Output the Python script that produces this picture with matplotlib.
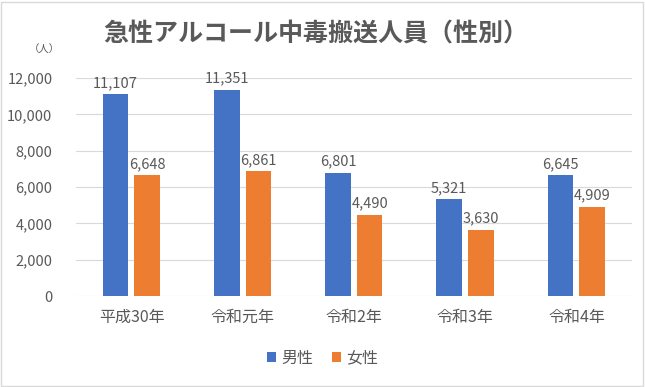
import matplotlib
matplotlib.use("Agg")
import matplotlib.pyplot as plt
import matplotlib.patches as patches
import numpy as np

plt.rcParams['font.family'] = ['Noto Sans CJK JP', 'DejaVu Sans']

# ---- data ----
categories = ["平成30年", "令和元年", "令和2年", "令和3年", "令和4年"]
male = [11107, 11351, 6801, 5321, 6645]
female = [6648, 6861, 4490, 3630, 4909]
series_names = ["男性", "女性"]
yticks = [0, 2000, 4000, 6000, 8000, 10000, 12000]

blue = "#4472C4"
orange = "#ED7D31"
text_col = "#595959"

fig = plt.figure(figsize=(6.45, 3.87), dpi=100)
ax = fig.add_axes([0.118, 0.235, 0.862, 0.563])

x = np.arange(len(categories))
w = 0.23
ax.bar(x - 0.145, male, w, color=blue, label=series_names[0], zorder=2)
ax.bar(x + 0.14, female, w, color=orange, label=series_names[1], zorder=2)

for xi, v in zip(x, male):
    ax.text(xi - 0.145, v + 250, f"{v:,}", ha='center', va='bottom', fontsize=10.5, color=text_col)
for xi, v in zip(x, female):
    ax.text(xi + 0.14, v + 250, f"{v:,}", ha='center', va='bottom', fontsize=10.5, color=text_col)

ax.set_xlim(-0.5, len(categories) - 0.5)
ax.set_ylim(0, 12000)
ax.set_yticks(yticks)
ax.set_yticklabels([f"{t:,}" for t in yticks], fontsize=10.5, color=text_col)
ax.set_xticks(x)
ax.set_xticklabels(categories, fontsize=11.5, color=text_col)
ax.tick_params(axis='both', length=0)
ax.tick_params(axis='y', pad=17)
ax.tick_params(axis='x', pad=9)
ax.grid(axis='y', color="#d9d9d9", linewidth=0.8, zorder=0)
for s in ax.spines.values():
    s.set_visible(False)

fig.text(0.49, 0.91, "急性アルコール中毒搬送人員（性別）", ha='center', va='center',
         fontsize=18, fontweight='bold', color=text_col)
fig.text(0.068, 0.872, "（人）", ha='center', va='center', fontsize=7.5, color=text_col)

fig.legend(loc='center', bbox_to_anchor=(0.5, 0.075), ncol=2, frameon=False,
           fontsize=11.5, handlelength=0.55, handleheight=0.55, handletextpad=0.3,
           columnspacing=1.2, labelcolor=text_col)

fig.patches.append(patches.Rectangle((0.002, 0.003), 0.995, 0.993, transform=fig.transFigure,
                                     fill=False, edgecolor="#d9d9d9", linewidth=1))

fig.savefig("out.png", dpi=100)
